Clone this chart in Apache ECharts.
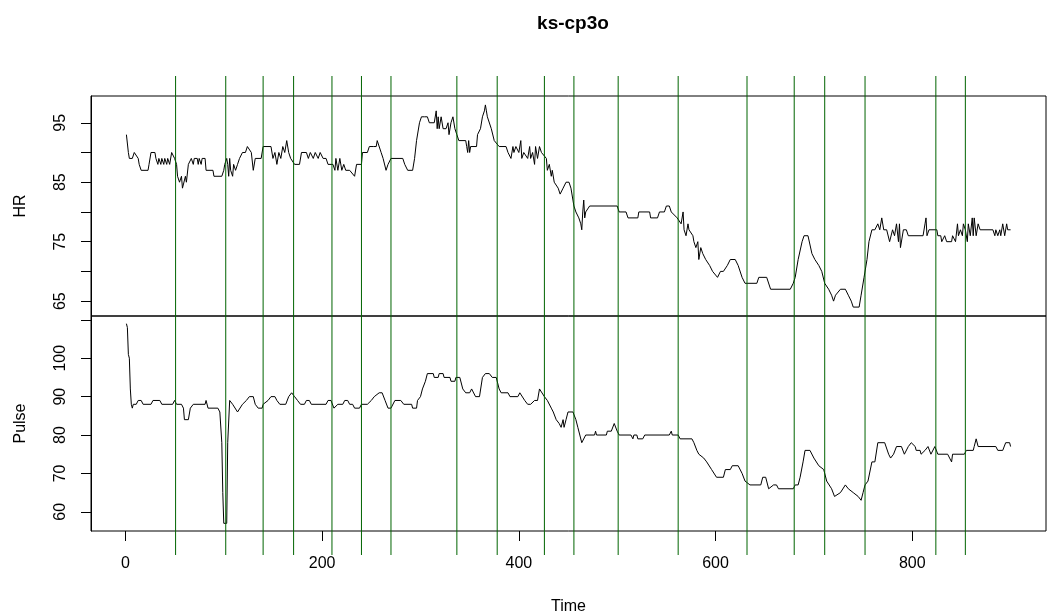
<!DOCTYPE html>
<html>
<head>
<meta charset="utf-8">
<script src="https://cdn.jsdelivr.net/npm/echarts@6/dist/echarts.min.js"></script>
<style>
	html, body { margin: 0; padding: 0; background: #fff; }
	#main { width: 1047px; height: 616px; }
</style>
</head>
<body>
<div id="main"></div>
<script>
// HR series, [time, value]
var hrData = [[1,93],[3,90],[4,89],[7,89],[9,90],[11,90],[13,89],[14,88],[16,87],[23,87],[24,88],[26,90],[30,90],[31,89],[33,88],[34,89],[36,88],[37,89],[39,88],[40,89],[42,88],[43,89],[45,88],[47,90],[50,89],[52,88],[53,86],[55,85],[57,86],[58,84],[60,84],[61,86],[62,85],[64,88],[67,89],[69,88],[70,89],[73,89],[74,88],[75,89],[77,88],[78,89],[81,89],[82,87],[89,87],[90,86],[98,86],[100,87],[101,88],[103,89],[104,88],[105,86],[106,89],[107,87],[109,86],[110,88],[112,87],[114,88],[116,89],[119,90],[122,90],[124,91],[126,91],[128,90],[130,87],[132,89],[138,89],[140,91],[148,91],[150,89],[152,90],[154,88],[156,90],[158,89],[160,91],[162,90],[164,92],[166,90],[168,89],[172,88],[177,88],[179,90],[184,90],[186,89],[188,90],[190,90],[191,89],[193,90],[195,90],[196,89],[198,90],[200,90],[201,89],[204,89],[206,88],[211,88],[213,87],[214,89],[216,87],[218,89],[220,87],[222,88],[224,87],[228,87],[233,86],[235,88],[240,88],[241,90],[246,90],[248,91],[252,91],[255,91],[256,92],[258,92],[260,90],[262,89],[265,87],[267,88],[270,89],[282,89],[284,88],[287,87],[292,87],[294,89],[296,92],[299,95],[301,96],[304,96],[307,96],[309,95],[314,95],[316,97],[317,94],[318,96],[319,94],[321,96],[323,94],[326,94],[328,95],[329,93],[331,95],[333,96],[335,94],[337,93],[339,92],[346,92],[347,91],[348,90],[349,92],[350,90],[351,91],[357,91],[358,93],[361,94],[363,96],[365,97],[366,98],[367,97],[368,96],[372,94],[375,92],[377,92],[380,91],[387,91],[389,90],[392,89],[394,91],[395,90],[397,91],[400,90],[402,92],[403,89],[405,90],[409,89],[411,91],[412,89],[414,90],[416,88],[417,91],[419,89],[421,91],[423,90],[425,90],[428,89],[429,87],[431,88],[433,86],[434,87],[436,85],[438,85],[440,84],[442,83],[445,84],[448,85],[451,85],[453,84],[455,82],[456,81],[458,80],[461,79],[463,78],[464,77],[465,80],[466,82],[467,79],[468,80],[470,80],[472,81],[500,81],[502,80],[509,80],[511,79],[521,79],[522,80],[533,80],[534,79],[541,79],[543,80],[548,80],[550,81],[553,81],[555,80],[557,80],[561,79],[565,78],[567,80],[568,77],[570,76],[572,78],[573,77],[577,76],[578,75],[580,74],[582,75],[583,72],[585,74],[587,73],[590,72],[594,71],[597,70],[602,69],[605,70],[608,70],[612,71],[615,72],[620,72],[623,71],[627,69],[630,68],[642,68],[644,69],[652,69],[656,67],[676,67],[679,68],[681,69],[684,72],[688,75],[690,76],[694,76],[698,73],[701,72],[705,71],[708,70],[711,68],[715,67],[718,66],[720,65],[722,66],[727,67],[732,67],[735,66],[738,65],[740,64],[746,64],[748,66],[751,69],[754,72],[756,75],[759,77],[762,77],[765,78],[767,77],[769,79],[771,77],[774,77],[777,75],[780,77],[782,76],[784,78],[786,75],[787,78],[788,74],[791,77],[794,77],[796,76],[811,76],[813,78],[814,79],[815,76],[817,77],[825,77],[826,76],[829,76],[830,75],[833,76],[835,75],[840,75],[841,76],[844,75],[846,78],[847,76],[849,77],[851,76],[852,78],[854,77],[856,75],[857,78],[859,76],[861,79],[862,76],[863,79],[865,76],[867,78],[869,77],[882,77],[884,76],[885,77],[887,76],[889,77],[890,76],[892,78],[894,76],[896,78],[897,77],[900,77]];

// Pulse series, [time, value]
var pulseData = [[1,109],[2,108],[3,101],[4,100],[5,92],[6,88],[7,87],[8,88],[11,88],[13,89],[16,89],[18,88],[26,88],[28,89],[35,89],[37,88],[48,88],[50,89],[52,88],[57,88],[59,87],[60,84],[64,84],[66,87],[69,88],[81,88],[82,89],[84,87],[94,87],[96,86],[98,78],[99,65],[100,57],[103,57],[104,78],[106,89],[109,88],[114,86],[116,86],[119,88],[123,89],[126,90],[130,90],[132,88],[135,87],[139,87],[140,88],[145,89],[148,90],[152,90],[154,89],[157,88],[163,88],[166,90],[169,91],[172,90],[175,89],[178,88],[182,88],[184,89],[187,89],[189,88],[204,88],[206,89],[209,89],[212,87],[214,87],[216,88],[221,88],[223,89],[226,89],[228,88],[231,88],[233,87],[238,87],[240,88],[246,88],[250,89],[253,90],[258,91],[261,91],[264,89],[267,87],[270,87],[274,89],[280,89],[283,88],[291,88],[292,87],[296,87],[297,89],[300,90],[302,92],[305,94],[307,96],[313,96],[314,95],[318,95],[319,96],[323,96],[324,95],[330,95],[331,94],[335,94],[336,95],[340,95],[343,92],[346,91],[350,91],[352,92],[354,92],[356,90],[360,90],[363,95],[366,96],[370,96],[373,95],[377,95],[380,92],[382,91],[389,91],[391,90],[399,90],[401,91],[402,91],[406,89],[409,88],[412,88],[416,89],[419,89],[421,92],[423,92],[426,90],[429,89],[433,87],[435,86],[438,84],[441,83],[443,82],[445,84],[446,82],[448,84],[450,86],[455,86],[458,84],[460,82],[462,80],[464,78],[466,78],[468,80],[477,80],[478,81],[479,80],[489,80],[490,81],[494,81],[497,83],[500,81],[502,80],[514,80],[516,79],[517,80],[520,80],[521,79],[526,79],[528,80],[553,80],[555,81],[556,80],[562,80],[564,79],[576,79],[578,78],[581,76],[583,75],[588,74],[591,73],[596,71],[601,69],[608,69],[610,71],[615,71],[617,72],[623,72],[627,70],[630,68],[635,67],[646,67],[648,69],[651,69],[654,66],[659,67],[662,67],[664,66],[679,66],[681,67],[684,67],[686,69],[689,73],[691,76],[696,76],[700,74],[705,72],[710,71],[713,68],[718,66],[721,64],[723,64],[727,65],[732,67],[735,66],[740,65],[745,64],[748,63],[750,65],[752,67],[755,68],[759,73],[762,73],[765,78],[772,78],[776,75],[778,74],[781,75],[784,77],[789,77],[792,75],[796,77],[799,78],[803,77],[804,76],[808,76],[809,75],[813,76],[816,77],[819,75],[823,77],[826,75],[836,75],[838,74],[840,73],[841,75],[853,75],[855,76],[862,76],[863,77],[865,79],[867,77],[885,77],[887,76],[892,76],[895,78],[899,78],[900,77]];

// vertical event markers (green)
var eventTimes = [51, 102, 140, 171, 210, 240, 270, 337, 378, 426, 456, 501, 562, 632, 680, 711, 752, 824, 854];

// tick positions / labels
var timeTicks = [0, 200, 400, 600, 800];
var hrTicks = [65, 70, 75, 80, 85, 90, 95];
var hrLabels = [65, 75, 85, 95];
var pulseTicks = [60, 70, 80, 90, 100, 110];
var pulseLabels = [60, 70, 80, 90, 100];

var FONT = "'Liberation Sans', Arial, sans-serif";
var X_MIN = -35, X_MAX = 936;

var chart = echarts.init(document.getElementById('main'), null, { renderer: 'canvas' });

function hiddenX(idx) {
	return {
		type: 'value', gridIndex: idx, min: X_MIN, max: X_MAX,
		axisLine: { show: false, onZero: false }, axisTick: { show: false },
		axisLabel: { show: false }, splitLine: { show: false }
	};
}

function panelY(idx, name, min, max, ticks, labels) {
	return {
		type: 'value', gridIndex: idx, min: min, max: max,
		name: name, nameLocation: 'middle', nameGap: 62, nameRotate: 90,
		nameTextStyle: { color: '#000', fontSize: 16, fontFamily: FONT },
		axisLine: { show: true, onZero: false, lineStyle: { color: '#000', width: 1 } },
		axisTick: { show: true, inside: false, length: 10, customValues: ticks, lineStyle: { color: '#000' } },
		axisLabel: { show: true, customValues: labels, rotate: 90, margin: 22, color: '#000', fontSize: 16, fontFamily: FONT },
		splitLine: { show: false }
	};
}

// green vertical line per event, full height of the overlay grid
function renderEvent(params, api) {
	var top = api.coord([api.value(0), 1]);
	var bottom = api.coord([api.value(0), 0]);
	return {
		type: 'line',
		shape: { x1: top[0], y1: top[1], x2: bottom[0], y2: bottom[1] },
		style: { stroke: '#006400', lineWidth: 1 }
	};
}

var option = {
	animation: false,
	backgroundColor: '#fff',
	title: {
		text: 'ks-cp3o', left: 568, top: 9, textAlign: 'center',
		textStyle: { fontSize: 19, fontWeight: 'bold', color: '#000', fontFamily: FONT }
	},
	grid: [
		{ left: 91, right: 1, top: 96, height: 220, show: true, borderColor: '#000', borderWidth: 1 },
		{ left: 91, right: 1, top: 316, height: 219, show: true, borderColor: '#000', borderWidth: 1 },
		{ left: 91, right: 1, top: 76, height: 479 }
	],
	xAxis: [
		hiddenX(0),
		{
			type: 'value', gridIndex: 1, min: X_MIN, max: X_MAX,
			name: 'Time', nameLocation: 'middle', nameGap: 68,
			nameTextStyle: { color: '#000', fontSize: 16, fontFamily: FONT },
			axisLine: { show: false, onZero: false },
			axisTick: { show: true, inside: false, length: 10, customValues: timeTicks, lineStyle: { color: '#000' } },
			axisLabel: { show: true, customValues: timeTicks, margin: 25, color: '#000', fontSize: 16, fontFamily: FONT },
			splitLine: { show: false }
		},
		hiddenX(2)
	],
	yAxis: [
		panelY(0, 'HR', 62.5, 99.5, hrTicks, hrLabels),
		panelY(1, 'Pulse', 55, 111, pulseTicks, pulseLabels),
		{ type: 'value', gridIndex: 2, min: 0, max: 1, show: false }
	],
	series: [
		{
			name: 'HR', type: 'line', xAxisIndex: 0, yAxisIndex: 0, data: hrData,
			showSymbol: false, symbol: 'none', lineStyle: { color: '#000', width: 1 }, z: 3
		},
		{
			name: 'Pulse', type: 'line', xAxisIndex: 1, yAxisIndex: 1, data: pulseData,
			showSymbol: false, symbol: 'none', lineStyle: { color: '#000', width: 1 }, z: 3
		},
		{
			name: 'events', type: 'custom', xAxisIndex: 2, yAxisIndex: 2,
			renderItem: renderEvent, silent: true, z: 4,
			data: eventTimes.map(function(t) { return [t]; })
		}
	]
};

chart.setOption(option);
</script>
</body>
</html>
